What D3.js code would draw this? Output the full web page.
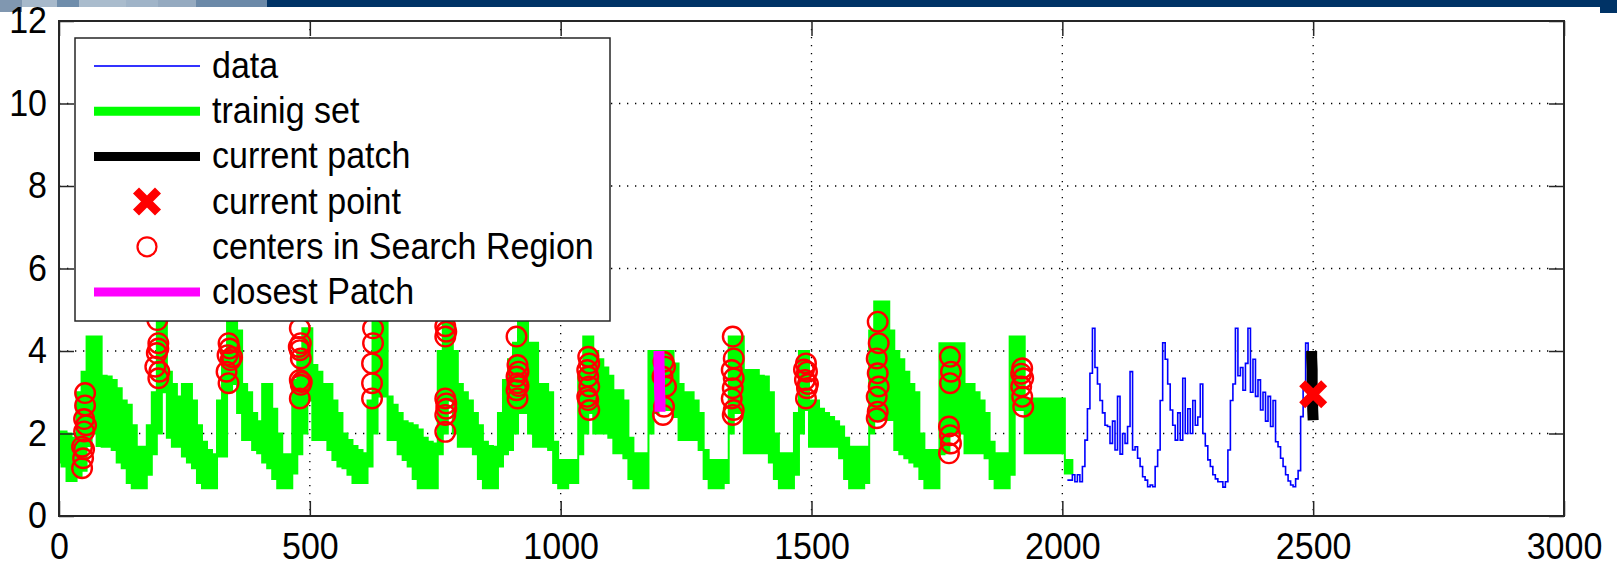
<!DOCTYPE html>
<html><head><meta charset="utf-8">
<script src="https://cdn.jsdelivr.net/npm/d3@7"></script>
<style>
html,body{margin:0;padding:0;background:#fff;overflow:hidden;}
svg{display:block;}
text{font-family:"Liberation Sans",Arial,Helvetica,sans-serif;fill:#000;}
</style></head><body>
<svg id="chart" width="1617" height="567"></svg>
<script>
// ---------- data ----------
const xTicks = [0, 500, 1000, 1500, 2000, 2500, 3000];
const yTicks = [0, 2, 4, 6, 8, 10, 12];
const legendLabels = ["data", "trainig set", "current patch", "current point", "centers in Search Region", "closest Patch"];

const trainX = [0,10,20,30,40,50,60,70,80,90,100,110,120,130,140,150,160,170,180,190,200,210,220,230,240,250,260,270,280,290,300,310,320,330,340,350,360,370,380,390,400,410,420,430,440,450,460,470,480,490,500,510,520,530,540,550,560,570,580,590,600,610,620,630,640,650,660,670,680,690,700,710,720,730,740,750,760,770,780,790,800,810,820,830,840,850,860,870,880,890,900,910,920,930,940,950,960,970,980,990,1000,1010,1020,1030,1040,1050,1060,1070,1080,1090,1100,1110,1120,1130,1140,1150,1160,1170,1180,1190,1200,1210,1220,1230,1240,1250,1260,1270,1280,1290,1300,1310,1320,1330,1340,1350,1360,1370,1380,1390,1400,1410,1420,1430,1440,1450,1460,1470,1480,1490,1500,1510,1520,1530,1540,1550,1560,1570,1580,1590,1600,1610,1620,1630,1640,1650,1660,1670,1680,1690,1700,1710,1720,1730,1740,1750,1760,1770,1780,1790,1800,1810,1820,1830,1840,1850,1860,1870,1880,1890,1900,1910,1920,1930,1940,1950,1960,1970,1980,1990,2000,2010,2020];
const trainLow = [1.3,1.2,0.85,0.85,0.95,1.1,1.7,2.0,1.7,1.68,1.68,1.6,1.3,1.16,0.8,0.67,0.67,0.67,1.0,1.5,2.0,3.0,1.9,1.68,1.68,1.44,1.3,1.16,0.8,0.67,0.67,0.67,1.44,1.44,3.0,3.2,2.5,1.84,1.84,1.6,1.52,1.3,1.16,0.9,0.67,0.67,0.67,1.03,1.5,2.0,2.8,1.84,1.84,1.84,1.6,1.36,1.2,1.16,1.0,0.8,0.8,0.8,1.2,2.0,2.9,2.9,1.84,1.84,1.5,1.36,1.2,0.9,0.67,0.67,0.67,0.67,1.5,2.0,2.8,2.0,1.68,1.68,1.68,1.5,0.9,0.67,0.67,0.67,1.2,1.5,1.6,2.0,2.5,2.5,2.0,1.68,1.68,1.68,1.6,0.8,0.67,0.67,0.8,0.8,1.5,2.0,2.5,2.0,2.0,2.0,1.9,1.52,1.52,1.4,0.9,0.67,0.67,0.67,2.0,2.5,2.8,2.57,2.57,2.4,1.84,1.84,1.84,1.84,1.6,0.9,0.67,0.67,0.67,0.8,2.0,2.5,2.5,1.52,1.52,1.52,1.52,1.52,1.3,0.9,0.67,0.67,0.67,1.0,2.0,2.57,1.68,1.68,1.68,1.68,1.68,1.68,1.4,0.9,0.67,0.67,0.67,0.8,2.0,2.33,2.33,2.33,2.33,1.6,1.5,1.4,1.3,1.2,0.9,0.67,0.67,0.67,1.5,1.52,2.0,2.0,2.0,1.52,1.52,1.52,1.52,1.4,0.9,0.67,0.67,0.67,1.0,2.57,2.57,1.52,1.52,1.52,1.52,1.52,1.52,1.52,1.52,1.03,1.03];
const trainHigh = [2.05,2.05,2.0,1.9,3.0,3.5,4.35,4.35,4.35,3.4,3.38,3.3,3.1,2.8,2.7,2.2,1.68,1.68,2.2,3.0,5.2,5.4,3.5,3.2,2.9,3.2,3.2,2.8,2.2,1.8,1.6,1.5,2.8,4.0,5.2,5.3,4.5,3.2,3.0,2.5,2.3,3.2,3.2,2.6,2.0,1.5,1.5,3.3,4.0,4.55,4.55,3.66,3.5,3.2,3.2,2.8,2.5,2.0,1.84,1.7,1.6,1.52,2.8,5.0,5.3,5.0,2.9,2.7,2.5,2.3,2.25,2.2,2.1,1.9,1.8,1.76,4.0,5.2,5.3,4.0,3.2,3.0,2.8,2.5,2.2,1.8,1.7,1.68,2.5,3.3,3.8,4.2,5.2,5.3,4.2,4.2,3.2,3.2,3.0,1.8,1.36,1.36,1.36,1.36,3.5,4.35,4.35,4.0,3.8,3.6,3.4,3.05,3.05,2.8,1.9,1.52,1.52,1.52,4.0,4.0,4.0,4.0,4.0,3.7,3.2,3.0,3.0,2.8,2.5,1.6,1.36,1.36,1.36,1.36,4.35,4.35,4.35,3.54,3.54,3.54,3.4,3.38,3.0,2.0,1.52,1.52,1.52,2.5,4.0,4.0,2.8,2.8,2.6,2.5,2.4,2.3,2.17,1.9,1.68,1.68,1.68,1.68,4.5,5.2,5.2,5.2,4.5,4.0,3.8,3.5,3.2,3.0,2.0,1.6,1.6,1.6,4.19,4.19,4.19,4.19,4.19,3.2,3.2,3.0,2.8,2.5,1.8,1.52,1.52,1.52,4.35,4.35,4.35,2.85,2.85,2.85,2.85,2.85,2.85,2.85,2.85,1.36,1.36];

const dataX = [2010,2015,2020,2025,2030,2035,2040,2045,2050,2055,2060,2065,2070,2075,2080,2085,2090,2095,2100,2105,2110,2115,2120,2125,2130,2135,2140,2145,2150,2155,2160,2165,2170,2175,2180,2185,2190,2195,2200,2205,2210,2215,2220,2225,2230,2235,2240,2245,2250,2255,2260,2265,2270,2275,2280,2285,2290,2295,2300,2305,2310,2315,2320,2325,2330,2335,2340,2345,2350,2355,2360,2365,2370,2375,2380,2385,2390,2395,2400,2405,2410,2415,2420,2425,2430,2435,2440,2445,2450,2455,2460,2465,2470,2475,2480,2485,2490];
const dataY = [0.87,0.87,1.0,0.83,1.0,0.83,1.2,1.84,2.6,3.46,4.55,3.6,3.2,2.8,2.5,2.2,2.17,1.76,2.3,1.6,2.9,1.5,2.0,1.76,2.17,3.5,1.6,1.68,1.4,1.2,0.95,0.87,0.71,0.75,0.71,1.2,1.6,2.8,4.2,3.8,3.2,2.57,2.2,1.84,2.5,1.84,3.34,2.0,2.6,2.0,2.8,2.2,2.4,3.2,2.0,1.7,1.36,1.2,1.0,0.9,0.83,0.83,0.7,0.83,1.6,2.8,3.2,4.55,3.4,3.6,3.05,3.7,4.55,3.0,3.8,2.9,3.3,2.57,3.0,2.3,2.9,2.17,2.8,1.8,1.68,1.4,1.2,1.0,0.85,0.75,0.71,0.9,1.1,2.41,3.2,4.19,3.9];

const patchX = [2497,2497,2498,2498,2499,2499,2500];
const patchY = [4.0,3.85,3.55,3.2,2.9,2.6,2.32];
const pointX = [2500];
const pointY = [2.95];
const closestX = [1196,1196,1197,1197,1198,1198];
const closestY = [4.0,3.7,3.4,3.1,2.8,2.53];

const circleX = [52,52,50,54,50,46,50,48,46,
  196,198,198,195,192,200,198,
  338,340,336,342,334,338,345,
  480,482,480,482,480,482,480,484,478,
  626,626,624,624,624,
  770,772,770,770,772,770,770,772,
  912,914,916,912,914,912,914,916,
  1055,1057,1053,1055,1057,1053,1055,1057,
  1205,1208,1203,1210,1206,1204,
  1343,1345,1341,1345,1343,1341,1345,1343,
  1489,1491,1487,1491,1489,1485,1493,
  1632,1634,1630,1632,1634,1630,1632,1630,
  1776,1778,1776,1774,1776,1778,1774,
  1920,1922,1918,1920,1922,1918];
const circleY = [2.98,2.68,2.35,2.2,2.05,1.68,1.62,1.4,1.16,
  4.75,4.19,4.06,3.95,3.62,3.5,3.34,
  4.19,4.06,3.9,3.78,3.5,3.22,3.85,
  4.55,4.19,4.02,3.82,3.3,3.18,2.85,3.25,4.1,
  4.55,4.19,3.7,3.22,2.85,
  4.6,4.47,4.35,2.85,2.73,2.45,2.04,2.6,
  4.35,3.66,3.5,3.38,3.22,3.05,2.85,3.15,
  3.86,3.7,3.54,3.38,3.14,2.89,2.81,2.57,
  3.74,3.62,3.38,3.14,2.65,2.45,
  4.35,3.82,3.54,3.34,3.1,2.85,2.57,2.45,
  3.7,3.5,3.3,3.1,2.85,3.55,3.2,
  4.71,4.19,3.82,3.46,3.14,2.89,2.53,2.37,
  3.86,3.5,3.22,2.17,1.96,1.76,1.52,
  3.58,3.34,3.14,2.89,2.65,3.45];

// ---------- drawing ----------
const svg = d3.select("#chart");
const x = d3.scaleLinear().domain([0, 3000]).range([59, 1564]);
const y = d3.scaleLinear().domain([0, 12]).range([516, 21]);
const FS = 34, VS = 1.1;

function stretch(sel){
  sel.each(function(){
    const t = d3.select(this);
    const tx = +t.attr("x") || 0, ty = +t.attr("y") || 0;
    t.attr("transform", `translate(${tx},${ty}) scale(1,${VS}) translate(${-tx},${-ty})`);
  });
}

// decorative slide banner
const banner = [
  {x0:0,x1:22,h:12,c:"#8097b0"},{x0:22,x1:57,h:7,c:"#a7b9cb"},{x0:57,x1:79,h:7,c:"#6f8dab"},
  {x0:79,x1:126,h:7,c:"#aabccd"},{x0:126,x1:158,h:7,c:"#a0b4c8"},{x0:158,x1:196,h:7,c:"#95aac0"},
  {x0:196,x1:267,h:7,c:"#6b89a8"},{x0:267,x1:1617,h:7,c:"#003366"},{x0:1600,x1:1617,h:13,c:"#003366"}];
svg.append("g").selectAll("rect").data(banner).join("rect")
  .attr("x",d=>d.x0).attr("y",0).attr("width",d=>d.x1-d.x0).attr("height",d=>d.h).attr("fill",d=>d.c);

// grid
const grid = svg.append("g").attr("stroke","#000").attr("stroke-width",1.3).attr("stroke-dasharray","1.3,6.7");
grid.selectAll(".gx").data(xTicks.slice(1,-1)).join("line")
  .attr("x1",d=>x(d)).attr("x2",d=>x(d)).attr("y1",y(12)).attr("y2",y(0));
grid.selectAll(".gy").data(yTicks.slice(1,-1)).join("line")
  .attr("y1",d=>y(d)).attr("y2",d=>y(d)).attr("x1",x(0)).attr("x2",x(3000));

// training set (thick green band)
const trainData = trainX.map((v,i)=>({x:v, lo:trainLow[i], hi:trainHigh[i]}));
svg.append("path").datum(trainData)
  .attr("fill","#00ff00").attr("stroke","#00ff00").attr("stroke-width",2)
  .attr("d", d3.area().x(d=>x(d.x)).y0(d=>y(d.lo)).y1(d=>y(d.hi)).curve(d3.curveStep));

// data (blue)
svg.append("path").datum(dataX.map((v,i)=>[v,dataY[i]]))
  .attr("fill","none").attr("stroke","#0000ff").attr("stroke-width",1.6)
  .attr("d", d3.line().x(d=>x(d[0])).y(d=>y(d[1])).curve(d3.curveStepAfter));

// centers in search region
svg.append("g").selectAll("circle").data(circleX.map((v,i)=>[v,circleY[i]])).join("circle")
  .attr("cx",d=>x(d[0])).attr("cy",d=>y(d[1])).attr("r",9.8)
  .attr("fill","none").attr("stroke","#ff0000").attr("stroke-width",2.4);

// closest patch (magenta)
svg.append("path").datum(closestX.map((v,i)=>[v,closestY[i]]))
  .attr("fill","none").attr("stroke","#ff00ff").attr("stroke-width",11)
  .attr("d", d3.line().x(d=>x(d[0])).y(d=>y(d[1])));

// current patch (black)
svg.append("path").datum(patchX.map((v,i)=>[v,patchY[i]]))
  .attr("fill","none").attr("stroke","#000").attr("stroke-width",11)
  .attr("d", d3.line().x(d=>x(d[0])).y(d=>y(d[1])));

// current point (red x)
function xMark(g, cx, cy){
  g.append("path").attr("d",`M${cx-11},${cy-11}L${cx+11},${cy+11}M${cx-11},${cy+11}L${cx+11},${cy-11}`)
   .attr("stroke","#ff0000").attr("stroke-width",8.5).attr("fill","none");
}
const pg = svg.append("g");
pointX.forEach((v,i)=>xMark(pg, x(v), y(pointY[i])));

// axes
const axStroke = "#262626";
function styleAxis(g){
  g.select(".domain").remove();
  g.selectAll(".tick line").attr("stroke",axStroke).attr("stroke-width",1.5);
  g.selectAll(".tick text").attr("font-size",FS).attr("fill","#000")
   .style("font-family",'"Liberation Sans",Arial,sans-serif');
}
svg.append("g").attr("transform",`translate(0,${y(0)})`)
  .call(d3.axisBottom(x).tickValues(xTicks).tickSize(-15).tickSizeOuter(0).tickPadding(16).tickFormat(d3.format("d")))
  .call(styleAxis).call(g=>stretch(g.selectAll(".tick text")));
svg.append("g").attr("transform",`translate(0,${y(12)})`)
  .call(d3.axisTop(x).tickValues(xTicks).tickSize(-15).tickSizeOuter(0).tickFormat(""))
  .call(styleAxis);
svg.append("g").attr("transform",`translate(${x(0)},0)`)
  .call(d3.axisLeft(y).tickValues(yTicks).tickSize(-15).tickSizeOuter(0).tickPadding(12).tickFormat(d3.format("d")))
  .call(styleAxis).call(g=>stretch(g.selectAll(".tick text")));
svg.append("g").attr("transform",`translate(${x(3000)},0)`)
  .call(d3.axisRight(y).tickValues(yTicks).tickSize(-15).tickSizeOuter(0).tickFormat(""))
  .call(styleAxis);
svg.append("rect").attr("x",x(0)).attr("y",y(12)).attr("width",x(3000)-x(0)).attr("height",y(0)-y(12))
  .attr("fill","none").attr("stroke",axStroke).attr("stroke-width",2);

// legend
const lg = svg.append("g");
lg.append("rect").attr("x",75).attr("y",38).attr("width",535).attr("height",283)
  .attr("fill","#fff").attr("stroke",axStroke).attr("stroke-width",1.5);
const rowY = i => 66 + i*45.2;
const sx0 = 94, sx1 = 200, sxm = 147;
lg.append("line").attr("x1",sx0).attr("x2",sx1).attr("y1",rowY(0)).attr("y2",rowY(0)).attr("stroke","#3333ff").attr("stroke-width",1.8);
lg.append("line").attr("x1",sx0).attr("x2",sx1).attr("y1",rowY(1)).attr("y2",rowY(1)).attr("stroke","#00ff00").attr("stroke-width",9);
lg.append("line").attr("x1",sx0).attr("x2",sx1).attr("y1",rowY(2)).attr("y2",rowY(2)).attr("stroke","#000").attr("stroke-width",9);
xMark(lg, sxm, rowY(3));
lg.append("circle").attr("cx",sxm).attr("cy",rowY(4)).attr("r",9.5).attr("fill","none").attr("stroke","#ff0000").attr("stroke-width",2.2);
lg.append("line").attr("x1",sx0).attr("x2",sx1).attr("y1",rowY(5)).attr("y2",rowY(5)).attr("stroke","#ff00ff").attr("stroke-width",9);
lg.selectAll("text").data(legendLabels).join("text")
  .attr("x",212).attr("y",(d,i)=>rowY(i)+12).attr("font-size",FS).text(d=>d)
  .call(stretch);
</script>
</body></html>
